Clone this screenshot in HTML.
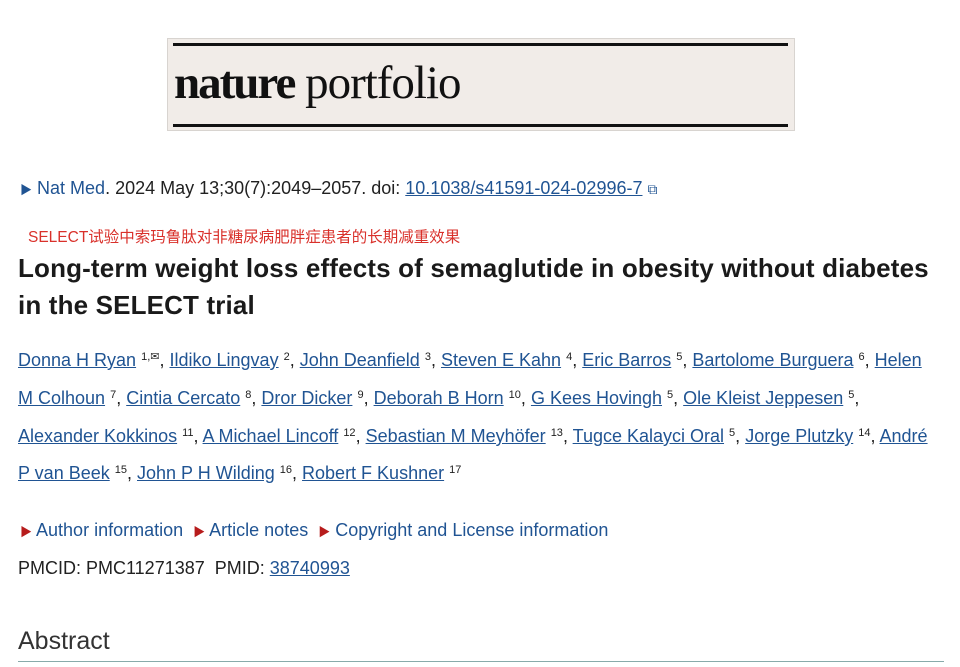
<!DOCTYPE html>
<html><head><meta charset="utf-8"><style>
html,body{margin:0;padding:0;background:#fff;width:960px;height:667px;overflow:hidden;}
body{font-family:"Liberation Sans","Noto Sans CJK SC",sans-serif;color:#212121;position:relative;}
.a{position:absolute;white-space:nowrap;}
a{color:#205493;text-decoration:underline;}
.t{font-size:18px;line-height:22px;}
sup{font-size:11px;vertical-align:6px;line-height:0;}
.tri{color:#205493;font-size:12px;}
.rtri{color:#b71c1c;font-size:12px;}
.lk{color:#205493;}
</style></head><body>
<div class="a" style="left:167px;top:38px;width:626px;height:91px;background:#f1ece8;border:1px solid #d8d4d0;"></div>
<div class="a" style="left:173px;top:43px;width:615px;height:3px;background:#111;"></div>
<div class="a" style="left:173px;top:124px;width:615px;height:3px;background:#111;"></div>
<div class="a" style="left:174px;top:56px;font-family:'Liberation Serif',serif;font-size:47px;color:#111;letter-spacing:-1px;"><b style="letter-spacing:-2px">nature</b> portfolio</div>

<div class="a t" style="left:20px;top:177px;"><span class="tri">▶</span> <span class="lk">Nat Med</span>. 2024 May 13;30(7):2049–2057. doi: <a>10.1038/s41591-024-02996-7</a> <span class="lk" style="font-size:14px">⧉</span></div>
<div class="a" style="left:28px;top:225px;font-size:15.5px;color:#d9312b;">SELECT试验中索玛鲁肽对非糖尿病肥胖症患者的长期减重效果</div>
<div class="a" style="left:18px;top:250px;font-size:26px;font-weight:bold;color:#1a1a1a;line-height:37px;letter-spacing:0.15px;">Long-term weight loss effects of semaglutide in obesity without diabetes<br>in the SELECT trial</div>

<div class="a t" style="left:18px;top:349px;"><a>Donna H Ryan</a> <sup>1,✉</sup>, <a>Ildiko Lingvay</a> <sup>2</sup>, <a>John Deanfield</a> <sup>3</sup>, <a>Steven E Kahn</a> <sup>4</sup>, <a>Eric Barros</a> <sup>5</sup>, <a>Bartolome Burguera</a> <sup>6</sup>, <a>Helen</a></div>
<div class="a t" style="left:18px;top:387px;"><a>M Colhoun</a> <sup>7</sup>, <a>Cintia Cercato</a> <sup>8</sup>, <a>Dror Dicker</a> <sup>9</sup>, <a>Deborah B Horn</a> <sup>10</sup>, <a>G Kees Hovingh</a> <sup>5</sup>, <a>Ole Kleist Jeppesen</a> <sup>5</sup>,</div>
<div class="a t" style="left:18px;top:425px;"><a>Alexander Kokkinos</a> <sup>11</sup>, <a>A Michael Lincoff</a> <sup>12</sup>, <a>Sebastian M Meyhöfer</a> <sup>13</sup>, <a>Tugce Kalayci Oral</a> <sup>5</sup>, <a>Jorge Plutzky</a> <sup>14</sup>, <a>André</a></div>
<div class="a t" style="left:18px;top:462px;"><a>P van Beek</a> <sup>15</sup>, <a>John P H Wilding</a> <sup>16</sup>, <a>Robert F Kushner</a> <sup>17</sup></div>

<div class="a t" style="left:20px;top:519px;"><span class="rtri">▶</span> <span class="lk">Author information</span> &nbsp;<span class="rtri">▶</span> <span class="lk">Article notes</span> &nbsp;<span class="rtri">▶</span> <span class="lk">Copyright and License information</span></div>
<div class="a t" style="left:18px;top:557px;">PMCID: PMC11271387 &nbsp;PMID: <a>38740993</a></div>
<div class="a" style="left:18px;top:627px;font-size:25px;color:#333;">Abstract</div>
<div class="a" style="left:18px;top:661px;width:926px;height:1px;background:#8aa;"></div>
</body></html>
